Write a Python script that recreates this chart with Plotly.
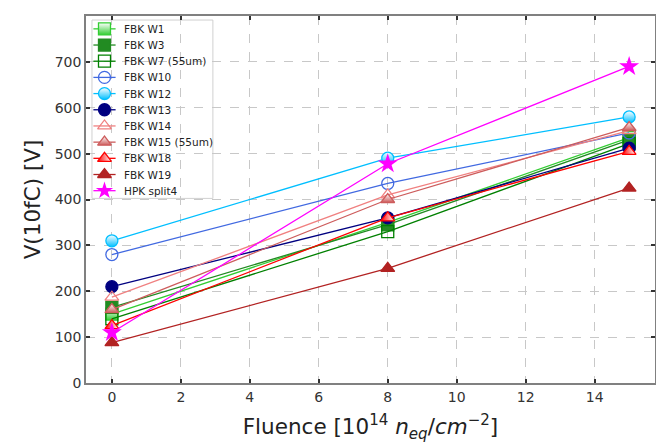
import plotly.graph_objects as go

fluence = [0, 8, 15]

names = ["FBK W1", "FBK W3", "FBK W7 (55um)", "FBK W10", "FBK W12", "FBK W13",
         "FBK W14", "FBK W15 (55um)", "FBK W18", "FBK W19", "HPK split4"]

v_w1 = [150, 350, 535]
v_w3 = [165, 345, 530]
v_w7 = [140, 330, 522]
v_w10 = [280, 435, 545]
v_w12 = [310, 490, 580]
v_w13 = [210, 360, 512]
v_w14 = [187, 410, 550]
v_w15 = [160, 400, 557]
v_w18 = [125, 360, 505]
v_w19 = [88, 250, 425]
v_hpk = [110, 478, 690]

series = [v_w1, v_w3, v_w7, v_w10, v_w12, v_w13, v_w14, v_w15, v_w18, v_w19, v_hpk]

# style per series: (line color, symbol, fill color, gradient)
styles = [
    ("limegreen", "square", "white", ("vertical", "limegreen")),
    ("forestgreen", "square", "forestgreen", None),
    ("green", "square", "rgba(0,0,0,0)", None),
    ("royalblue", "circle", "rgba(0,0,0,0)", None),
    ("deepskyblue", "circle", "white", ("vertical", "deepskyblue")),
    ("navy", "circle", "navy", None),
    ("lightcoral", "triangle-up", "rgba(0,0,0,0)", None),
    ("indianred", "triangle-up", "white", ("vertical", "indianred")),
    ("red", "triangle-up", "red", ("horizontal", "white")),
    ("firebrick", "triangle-up", "firebrick", None),
    ("magenta", "star", "magenta", None),
]


def make_marker(col, sym, fill, grad, star_size=15):
    m = dict(symbol=sym, size=12, color=fill, line=dict(color=col, width=1.3))
    if sym == "star":
        m["size"] = star_size
        m["line"]["width"] = 0
    if grad is not None:
        m["gradient"] = dict(type=grad[0], color=grad[1])
    return m


fig = go.Figure()
for name, vals, (col, sym, fill, grad) in zip(names, series, styles):
    fig.add_trace(go.Scatter(
        x=fluence, y=vals, name=name, mode="lines+markers",
        line=dict(color=col, width=1.3), marker=make_marker(col, sym, fill, grad),
        showlegend=False,
    ))

# ---- hand-made legend in an overlay axis with [0,1] ranges ----
leg_x0, leg_x1 = 0.0105, 0.223
leg_top, leg_bot = 0.989, 0.503
item_top = 0.965
item_step = 0.0441
sym_x0, sym_x1, sym_xc = 0.013, 0.052, 0.0325
text_x = 0.064

fig.add_shape(type="rect", xref="paper", yref="paper", x0=leg_x0, x1=leg_x1, y0=leg_bot, y1=leg_top,
              fillcolor="rgba(255,255,255,0.92)", line=dict(color="#d0d0d0", width=1), layer="between")

for i, (name, (col, sym, fill, grad)) in enumerate(zip(names, styles)):
    yy = item_top - i * item_step
    fig.add_trace(go.Scatter(
        x=[sym_x0, sym_x1], y=[yy, yy], mode="lines", line=dict(color=col, width=1.3),
        xaxis="x2", yaxis="y2", showlegend=False, hoverinfo="skip",
    ))
    fig.add_trace(go.Scatter(
        x=[sym_xc], y=[yy], mode="markers", marker=make_marker(col, sym, fill, grad, star_size=13),
        xaxis="x2", yaxis="y2", showlegend=False, hoverinfo="skip",
    ))
    fig.add_annotation(
        x=text_x, y=yy, xref="paper", yref="paper", text=name, showarrow=False,
        xanchor="left", yanchor="middle",
        font=dict(family="DejaVu Sans", size=10.5, color="#222222"),
    )

axis_common = dict(
    showline=True, linecolor="#808080", linewidth=1.5, mirror="ticks",
    ticks="inside", ticklen=4, tickwidth=1.5, tickcolor="#333333",
    showgrid=True, gridcolor="#c8c8c8", griddash="dash", gridwidth=1,
    zeroline=False, layer="above traces",
    tickfont=dict(family="DejaVu Sans", size=14, color="#333333"),
)

fig.update_layout(
    width=656, height=435,
    margin=dict(l=78, r=9, t=6, b=59),
    paper_bgcolor="white", plot_bgcolor="white",
    font=dict(family="DejaVu Sans", color="#222222"),
    showlegend=False,
    xaxis=dict(
        range=[-0.75, 15.75], tickvals=[0, 2, 4, 6, 8, 10, 12, 14],
        title=dict(text="Fluence [10<sup>14</sup> <i>n</i><sub><i>eq</i></sub>/<i>cm</i><sup>−2</sup>]",
                   font=dict(family="DejaVu Sans", size=21.5, color="#222222"), standoff=17),
        **axis_common,
    ),
    yaxis=dict(
        range=[0, 800], tickvals=[0, 100, 200, 300, 400, 500, 600, 700, 800],
        title=dict(text="V(10fC) [V]", font=dict(family="DejaVu Sans", size=21.5, color="#222222"),
                   standoff=8),
        **axis_common,
    ),
    xaxis2=dict(overlaying="x", range=[0, 1], visible=False, fixedrange=True),
    yaxis2=dict(overlaying="y", range=[0, 1], visible=False, fixedrange=True),
)

fig.write_html("out.html")
